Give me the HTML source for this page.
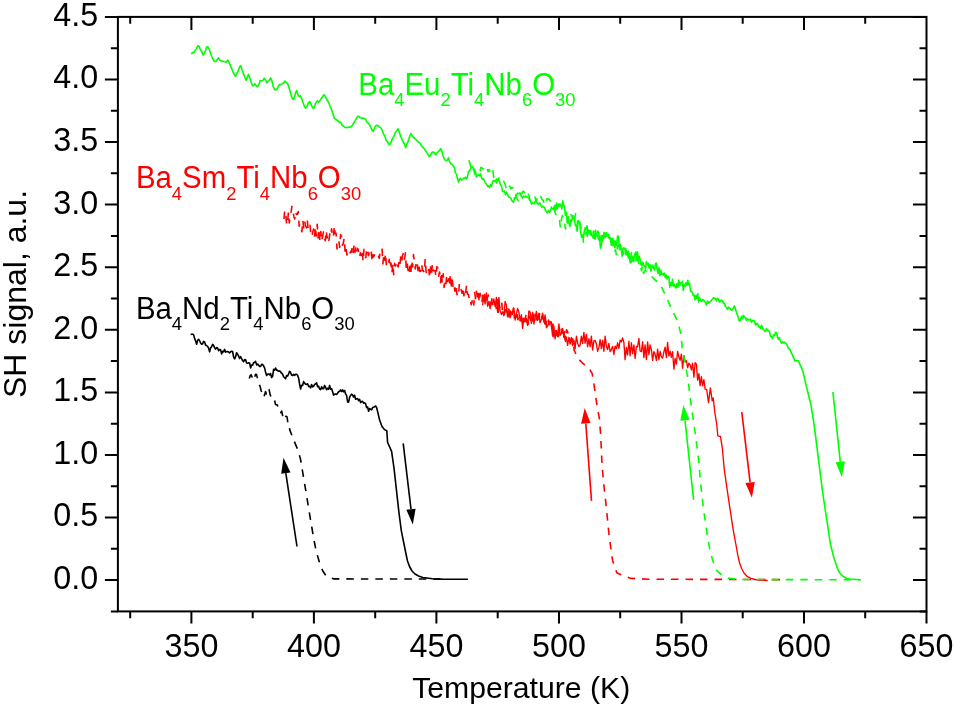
<!DOCTYPE html>
<html><head><meta charset="utf-8"><title>SH signal vs Temperature</title>
<style>html,body{margin:0;padding:0;background:#fff;}svg{display:block;}</style>
</head><body>
<svg width="954" height="707" viewBox="0 0 954 707">
<rect width="954" height="707" fill="#fff"/>
<g fill="none" stroke-linejoin="round" stroke-linecap="butt">
<polyline points="249.3,378.6 250.2,375.6 251.1,374.7 252.0,377.0 252.9,373.6 253.8,374.5 254.7,377.0 255.6,374.2 256.5,374.5 257.4,377.9 258.3,380.8 259.2,384.7 260.1,386.2 261.0,390.2 261.9,392.7 262.8,393.5 263.7,397.3 264.6,394.9 265.5,391.6 266.4,393.9 267.3,388.8 268.2,388.4 269.1,389.7 270.0,394.0 270.9,396.7 271.8,397.8 272.7,397.5 273.6,400.1 274.5,399.9 275.4,404.1 276.3,404.8 277.2,404.7 278.1,407.3 279.0,407.3 279.9,412.0 280.8,412.6 281.7,411.2 282.6,415.5 283.5,412.3 284.4,415.8 285.3,416.2 286.2,416.4 287.1,417.0 288.0,424.2 288.9,424.0 289.7,429.6 293.8,440.3 297.8,449.7 300.5,459.1 303.2,475.3 305.9,491.4 308.5,507.5 311.2,523.7 313.9,539.8 316.0,550.0 318.3,558.6 320.6,566.0 322.8,571.0 325.3,574.8 328.7,577.4 334.1,578.9 440.0,579.1" stroke="#000" stroke-width="1.6" stroke-dasharray="7.5 7"/>
<polyline points="190.6,334.5 191.6,334.3 192.6,334.2 193.6,334.9 194.6,338.4 195.6,341.0 196.6,344.2 197.6,340.3 198.6,339.3 199.6,340.7 200.6,343.0 201.6,344.1 202.6,343.9 203.6,341.4 204.6,342.0 205.6,345.2 206.6,345.5 207.6,346.5 208.6,348.1 209.6,351.9 210.6,347.9 211.6,346.8 212.6,344.4 213.6,345.4 214.6,347.8 215.6,349.1 216.6,347.6 217.6,347.9 218.6,350.7 219.6,349.6 220.6,349.8 221.6,353.9 222.6,351.4 223.6,351.8 224.6,349.4 225.6,352.1 226.6,351.6 227.6,351.6 228.6,352.0 229.6,353.0 230.6,351.7 231.6,351.2 232.6,351.6 233.6,357.0 234.6,358.9 235.6,356.7 236.6,352.7 237.6,354.2 238.6,356.1 239.6,358.5 240.6,356.6 241.6,358.7 242.6,360.5 243.6,361.7 244.6,359.6 245.6,359.8 246.6,363.0 247.6,363.3 248.6,362.8 249.6,363.0 250.6,367.9 251.6,365.0 252.6,365.2 253.6,362.6 254.6,362.5 255.6,361.4 256.6,364.9 257.6,364.1 258.6,365.0 259.6,366.5 260.6,366.5 261.6,364.2 262.6,364.3 263.6,366.0 264.6,367.8 265.6,372.3 266.6,375.4 267.6,374.1 268.6,374.1 269.6,374.8 270.6,373.6 271.6,377.5 272.6,376.3 273.6,369.3 274.6,370.2 275.6,368.0 276.6,370.2 277.6,370.4 278.6,371.3 279.6,370.9 280.6,371.9 281.6,373.2 282.6,374.1 283.6,376.7 284.6,377.8 285.6,378.8 286.6,375.6 287.6,376.1 288.6,373.9 289.6,371.3 290.6,372.4 291.6,375.2 292.6,375.4 293.6,374.4 294.6,375.5 295.6,374.2 296.6,374.3 297.6,375.4 298.6,378.0 299.6,384.0 300.6,389.0 301.6,385.4 302.6,385.5 303.6,381.6 304.6,383.1 305.6,384.3 306.6,384.4 307.6,383.8 308.6,386.4 309.6,386.3 310.6,387.9 311.6,384.6 312.6,386.8 313.6,386.3 314.6,384.3 315.6,383.9 316.6,382.8 317.6,386.8 318.6,386.2 319.6,389.0 320.6,389.7 321.6,386.7 322.6,388.6 323.6,388.8 324.6,385.4 325.6,387.3 326.6,389.7 327.6,388.3 328.6,389.3 329.6,385.4 330.6,389.2 331.6,388.6 332.6,391.7 333.6,395.1 334.6,394.3 335.6,394.0 336.6,394.4 337.6,393.2 338.6,391.7 339.6,391.2 340.6,389.9 341.6,391.5 342.6,389.9 343.6,391.9 344.6,390.5 345.6,394.0 346.6,395.4 347.6,402.0 348.6,402.1 349.6,397.3 350.6,395.4 351.6,394.2 352.6,395.1 353.6,397.1 354.6,395.1 355.6,399.2 356.6,398.7 357.6,398.5 358.6,400.6 359.6,399.4 360.6,402.6 361.6,401.6 362.6,401.3 363.6,403.2 364.6,402.8 365.6,403.7 366.6,407.6 367.6,406.9 368.6,411.3 369.6,408.5 370.6,409.2 371.6,409.8 372.6,407.6 373.6,407.3 374.6,406.6 375.6,406.0 376.6,407.5 377.6,411.5 379.6,420.0 382.0,426.5 384.4,429.6 386.8,430.8 387.6,442.5 391.6,451.3 394.0,468.1 396.4,489.7 398.8,511.3 401.3,530.6 404.2,545.0 405.8,553.0 407.5,561.0 409.5,566.5 412.0,571.0 415.0,574.0 418.5,576.0 422.9,577.5 432.5,578.7 442.1,579.1 467.9,579.2" stroke="#000" stroke-width="1.6"/>
<polyline points="283.9,219.0 284.8,210.3 285.7,212.5 286.6,225.0 287.5,223.8 288.4,212.0 289.3,222.9 290.2,216.8 291.1,211.7 292.0,206.2 292.9,208.8 293.8,216.4 294.7,218.9 295.6,211.4 296.5,214.4 297.4,214.3 298.3,211.5 299.2,226.1 300.1,223.6 301.0,227.8 301.9,231.8 302.8,220.2 303.7,227.8 304.6,221.0 305.5,225.6 306.4,227.8 307.3,220.1 308.2,230.1 309.1,228.7 310.0,225.2 310.9,234.9 311.8,236.9 312.7,232.2 313.6,229.0 314.5,237.1 315.4,226.5 316.3,236.0 317.2,224.4 318.1,237.9 319.0,228.7 319.9,240.5 320.8,231.5 321.7,241.2 322.6,236.0 323.5,231.8 324.4,238.0 325.3,240.8 326.2,230.4 327.1,238.0 328.0,234.6 328.9,240.4 329.8,233.8 330.7,236.4 331.6,228.7 332.5,237.0 333.4,237.5 334.3,225.7 335.2,233.7 336.1,233.4 337.0,249.0 337.9,243.2 338.8,240.8 339.7,247.4 340.6,234.5 341.5,236.8 342.4,245.2 343.3,243.3 344.2,238.1 345.1,251.9 346.0,247.1 346.9,254.9 347.8,251.9 348.7,254.8 349.6,255.0 350.5,251.4 351.4,252.1 352.3,246.4 353.2,252.4 354.1,244.4 355.0,252.4 355.9,245.2 356.8,250.9 357.7,248.3 358.6,251.9 359.5,257.5 360.4,252.9 361.3,255.4 362.2,249.8 363.1,261.7 364.0,249.3 364.9,256.4 365.8,257.7 366.7,248.1 367.6,250.2 368.5,255.7 369.4,252.0 370.3,254.3 371.2,251.0 372.1,262.0 373.0,254.8 373.9,256.6 374.8,253.6 375.7,252.8 376.6,256.0 377.5,255.5 378.4,256.1 379.3,258.3 380.2,251.0 381.1,250.0 382.0,247.9 382.9,263.9 383.8,253.8 384.7,260.2 385.6,253.2 386.5,266.9 387.4,265.4 388.3,265.3 389.2,259.3 390.1,268.1 391.0,263.1 391.9,273.5 392.8,263.2 393.7,274.7 394.6,263.4 395.5,265.9 396.4,260.8 397.3,264.6 398.2,266.9 399.1,259.8 400.0,264.1 400.9,255.2 401.8,260.7 402.7,254.9 403.6,252.8 404.5,259.4 405.4,252.7 406.3,268.9 407.2,263.3 408.1,270.6 409.0,274.9 409.9,266.4 410.8,273.6 411.7,260.0 412.6,267.0 413.5,254.5 414.4,263.3 415.3,269.0 416.2,262.4 417.1,260.9 418.0,270.7 418.9,264.6 419.8,271.4 420.7,271.3 421.6,264.0 422.5,270.4 423.4,270.8 424.3,272.8 425.2,258.9 426.1,271.7 427.0,275.0 427.9,275.1 428.8,269.5 429.7,278.1 430.6,267.1 431.5,273.7 432.4,263.8 433.3,270.6 434.2,270.8 435.1,270.5 436.0,276.8 436.9,266.6 437.8,268.1 438.7,276.2 439.6,272.0 440.5,282.6 441.4,272.1 442.3,283.5 443.2,273.9 444.1,287.5 445.0,280.2 445.9,284.4 446.8,274.8 447.7,281.7 448.6,278.8 449.5,285.9 450.4,273.8 451.3,285.9 452.2,279.2 453.1,287.3 454.0,284.1 454.9,291.1 455.8,284.2 456.7,292.7 457.6,296.7 458.5,295.8 459.4,283.1 460.3,286.8 461.2,289.9 462.1,293.3 463.0,287.1 463.9,295.8 464.8,289.0 465.7,292.4 466.6,285.0 467.5,294.2 468.4,294.7 469.3,298.8 470.2,297.3 471.1,304.7 472.0,301.6 472.9,297.8 473.8,304.9 474.7,292.5 475.6,299.3 476.5,291.2 477.4,298.5 478.3,292.7 479.2,302.5 480.1,293.4 481.0,299.2 481.9,302.7 482.8,294.4 483.7,299.4 484.6,294.5 485.5,299.0 486.4,303.0 487.3,297.9 488.2,294.9 489.1,305.0 490.0,302.4 490.9,308.5 491.8,298.9 492.7,303.7 493.6,301.8 494.5,304.1 495.4,303.0 496.3,308.5 497.2,299.5 498.1,312.5 499.0,306.8 499.9,307.3 500.8,301.6 501.7,302.3 502.6,313.3 503.5,310.7 504.4,314.3 505.3,305.7 506.2,312.2 507.1,307.1 508.0,309.9 508.9,316.6 509.8,308.2 510.7,314.8 511.6,309.2 512.5,314.4 513.4,308.0 514.3,318.0 515.2,317.2 516.1,317.4 517.0,311.0 517.9,319.7 518.8,315.8 519.7,317.5 520.6,320.8 521.5,319.9 522.4,321.6 523.3,316.8 524.2,322.4 525.1,319.8 526.0,314.6 526.9,322.1 527.8,320.2 528.7,325.2 529.6,316.2 530.5,320.3 531.4,320.1 532.3,313.7 533.2,324.8 534.1,314.2 535.0,314.3 535.9,320.7 536.8,315.8 537.7,322.3 538.6,322.0 539.5,313.6 540.4,318.2 541.3,315.5 542.2,319.0 543.1,312.6 544.0,315.0 544.9,323.9 545.8,318.3 546.7,328.7 547.6,324.8 548.5,320.1 549.4,326.1 550.3,320.9 551.2,322.0 552.1,332.8 553.0,324.1 553.9,336.7 554.8,328.1 555.7,330.3 556.6,335.0 557.5,329.9 558.4,336.5 559.3,330.0 560.2,326.7 561.1,328.4 562.0,333.6 562.9,330.1 563.8,337.1 564.7,329.7 565.6,341.5 566.5,329.8 567.4,331.1 568.3,334.5 569.2,335.8 570.1,343.8 571.0,335.6 571.9,341.7 572.8,338.8 574.2,350.4 578.7,359.2 583.1,363.7 588.9,368.0 592.2,373.7 593.9,383.9 597.3,407.6 599.3,417.8 600.7,434.7 601.8,460.1 602.4,468.6 603.4,481.3 605.8,502.5 609.2,536.4 612.5,560.2 616.8,572.8 619.3,574.0 631.2,578.4 648.1,579.2 780.3,579.6" stroke="#f00" stroke-width="1.6" stroke-dasharray="7.5 7"/>
<polyline points="482.6,305.4 483.9,296.4 485.1,303.8 486.4,292.8 487.6,306.3 488.9,301.3 490.1,308.7 491.4,301.2 492.6,304.7 493.9,299.0 495.1,306.5 496.4,297.4 497.6,312.3 498.9,297.4 500.1,310.6 501.4,314.5 502.6,311.8 503.9,315.8 505.1,301.5 506.4,305.2 507.6,316.9 508.9,308.8 510.1,317.8 511.4,312.0 512.6,313.2 513.9,308.3 515.1,320.0 516.4,313.6 517.6,308.4 518.9,312.1 520.1,320.8 521.4,314.7 522.6,328.3 523.9,318.0 525.1,321.8 526.4,318.4 527.6,325.4 528.9,311.0 530.1,312.1 531.4,323.4 532.6,312.3 533.9,324.0 535.1,317.6 536.4,311.4 537.6,320.3 538.9,313.3 540.1,322.7 541.4,319.5 542.6,313.1 543.9,322.1 545.1,314.9 546.4,325.9 547.6,326.2 548.9,322.2 550.1,321.4 551.4,325.1 552.6,336.1 553.9,326.2 555.1,339.0 556.4,330.5 557.6,336.6 558.9,323.9 560.1,335.5 561.4,332.4 562.6,328.5 563.9,335.3 565.1,339.8 566.4,337.1 567.6,345.3 568.9,337.3 570.1,341.4 571.4,337.4 572.6,345.7 573.9,340.1 575.1,348.8 576.4,336.2 577.6,342.9 578.9,346.6 580.1,345.1 581.4,336.1 582.6,343.4 583.9,332.4 585.1,343.2 586.4,334.4 587.6,346.9 588.9,338.6 590.1,346.6 591.4,336.1 592.6,350.0 593.9,340.9 595.1,340.4 596.4,344.0 597.6,351.4 598.9,347.4 600.1,339.7 601.4,348.7 602.6,340.1 603.9,351.3 605.1,336.2 606.4,346.2 607.6,349.6 608.9,343.5 610.1,351.6 611.4,349.6 612.6,346.5 613.9,354.5 615.1,346.1 616.4,348.7 617.6,342.8 618.9,348.4 620.1,340.3 621.4,341.8 622.6,337.9 623.9,342.6 625.1,359.7 626.4,347.5 627.6,354.8 628.9,341.2 630.1,355.7 631.4,342.7 632.6,353.7 633.9,345.0 635.1,358.5 636.4,346.5 637.6,346.9 638.9,338.4 640.1,351.0 641.4,351.7 642.6,341.8 643.9,357.6 645.1,344.9 646.4,359.5 647.6,341.9 648.9,354.7 650.1,344.8 651.4,349.7 652.6,360.3 653.9,351.6 655.1,354.3 656.4,360.4 657.6,349.2 658.9,359.7 660.1,351.5 661.4,356.9 662.6,358.0 663.9,352.0 665.1,347.1 666.4,357.6 667.6,342.5 668.9,356.0 670.1,351.2 671.4,357.4 672.6,351.7 673.9,369.1 675.1,358.5 676.4,364.0 677.6,351.4 678.9,357.1 680.1,360.3 681.4,354.2 682.6,368.2 683.9,355.7 685.1,361.9 686.4,360.7 687.6,367.7 688.9,363.2 690.1,364.7 691.4,369.8 692.6,363.1 693.9,377.2 695.1,362.7 696.4,364.1 697.6,380.1 698.9,373.6 700.1,385.7 701.4,376.6 702.6,385.9 703.9,379.6 705.1,389.2 706.7,389.7 708.5,402.6 710.4,387.9 712.2,400.8 713.2,398.0 715.0,413.7 716.8,424.7 717.8,435.8 720.5,436.7 722.4,448.7 724.2,469.0 728.4,498.2 733.1,529.3 736.0,545.0 737.8,555.3 739.6,563.0 741.6,568.5 744.0,573.0 747.0,576.3 751.0,578.3 755.0,579.5 760.4,580.3 767.7,580.5" stroke="#f00" stroke-width="1.35"/>
<polyline points="468.9,160.2 470.1,164.1 471.3,170.9 472.5,172.0 473.7,169.2 474.9,174.2 476.1,173.0 477.3,174.4 478.5,172.9 479.7,172.7 480.9,167.4 482.1,167.9 483.3,169.0 484.5,170.2 485.7,170.0 486.9,167.2 488.1,171.7 489.3,169.7 490.5,172.7 491.7,174.5 492.9,170.7 494.1,180.3 495.3,184.0 496.5,183.2 497.7,179.6 498.9,177.9 500.1,181.5 501.3,181.6 502.5,180.3 503.7,181.4 504.9,183.5 506.1,188.1 507.3,184.8 508.5,187.3 509.7,186.1 510.9,188.8 512.1,187.5 513.3,188.2 514.5,194.8 515.7,195.0 516.9,198.1 518.1,200.7 519.3,200.2 520.5,193.2 521.7,193.8 522.9,191.3 524.1,192.0 525.3,193.7 526.5,195.2 527.7,192.5 528.9,195.3 530.1,200.9 531.3,200.1 532.5,198.4 533.7,198.9 534.9,196.9 536.1,201.1 537.3,198.3 538.5,200.7 539.7,198.8 540.9,196.6 542.1,199.6 543.3,200.4 544.5,205.1 545.7,202.7 546.9,198.8 548.1,199.0 549.3,199.5 550.5,201.0 551.7,204.6 552.9,206.4 554.1,209.1 555.5,214.1 556.5,215.1 557.5,216.3 558.5,220.9 559.5,220.7 560.5,228.0 561.5,218.6 562.5,215.6 563.5,221.8 564.5,222.8 565.5,229.0 566.5,221.4 567.5,222.9 568.5,215.1 569.5,211.7 570.5,214.5 571.5,215.1 572.5,218.0 573.5,214.0 574.5,219.9 575.5,213.8 576.5,215.4 577.5,224.8 578.5,217.7 579.5,223.0 580.5,225.1 581.5,231.5 582.5,232.9 583.5,242.2 584.5,238.7 585.5,233.8 586.5,232.2 587.5,236.7 588.5,238.3 589.5,231.6 590.5,235.0 591.5,232.1 592.5,236.4 593.5,231.0 594.5,237.2 595.5,230.3 596.5,239.8 597.5,235.4 598.5,239.6 599.5,235.1 600.5,240.6 601.5,232.6 602.5,240.9 603.5,234.0 604.5,237.5 605.5,235.1 606.5,232.9 607.5,239.2 608.5,234.5 609.5,238.7 610.5,239.2 611.5,240.4 612.5,236.2 613.5,247.2 614.5,251.9 615.5,249.8 616.5,255.7 617.5,245.9 618.5,246.5 619.5,244.7 620.5,243.5 621.5,250.5 622.5,249.8 623.5,254.1 624.5,247.7 625.5,247.4 626.5,255.8 627.5,252.2 628.5,258.0 629.5,253.8 630.5,260.1 631.5,252.6 632.5,253.4 633.5,261.7 634.5,254.7 635.5,260.4 636.5,259.8 637.5,259.5 638.5,261.5 639.5,266.8 640.5,265.2 641.5,270.8 642.5,265.5 643.5,273.4 645.3,270.2 652.9,277.8 660.6,285.0 666.5,297.5 672.0,310.0 677.6,321.0 681.0,334.5 682.2,347.9 684.8,361.9 687.3,374.6 688.6,384.7 691.1,404.9 694.8,429.8 698.4,457.8 700.9,486.2 703.2,506.5 705.6,523.6 707.9,539.2 710.2,551.7 713.4,562.6 716.5,570.3 722.7,575.8 728.2,578.1 740.0,579.5 860.7,579.8" stroke="#0f0" stroke-width="1.6" stroke-dasharray="7.5 7"/>
<polyline points="191.3,53.9 192.6,52.6 193.9,52.6 195.2,50.4 196.5,48.6 197.8,45.7 199.1,46.2 200.4,49.7 201.7,51.6 203.0,55.0 204.3,53.6 205.6,50.0 206.9,46.9 208.2,47.0 209.5,49.8 210.8,54.0 212.1,57.5 213.4,60.1 214.7,61.6 216.0,61.4 217.3,59.5 218.6,57.8 219.9,60.5 221.2,60.8 222.5,61.5 223.8,61.4 225.1,61.8 226.4,62.1 227.7,60.2 229.0,62.1 230.3,65.4 231.6,68.2 232.9,71.8 234.2,74.2 235.5,76.5 236.8,73.5 238.1,71.1 239.4,67.4 240.7,65.5 242.0,69.7 243.3,73.2 244.6,76.6 245.9,80.3 247.2,77.7 248.5,74.4 249.8,78.1 251.1,81.6 252.4,85.8 253.7,85.6 255.0,83.8 256.3,85.9 257.6,86.5 258.9,84.5 260.2,80.5 261.5,80.7 262.8,80.5 264.1,78.4 265.4,79.8 266.7,82.9 268.0,81.3 269.3,80.4 270.6,77.9 271.9,80.9 273.2,86.5 274.5,89.3 275.8,90.0 277.1,89.0 278.4,86.2 279.7,84.5 281.0,84.8 282.3,83.5 283.6,83.0 284.9,81.0 286.2,82.5 287.5,83.4 288.8,86.7 290.1,91.2 291.4,96.0 292.7,99.2 294.0,98.9 295.3,93.8 296.6,90.6 297.9,94.7 299.2,96.6 300.5,95.7 301.8,99.1 303.1,102.5 304.4,106.5 305.7,108.3 307.0,106.4 308.3,103.1 309.6,101.6 310.9,104.2 312.2,107.0 313.5,108.6 314.8,105.7 316.1,102.4 317.4,100.8 318.7,102.1 320.0,100.4 321.3,98.5 322.6,96.6 323.9,94.7 325.2,96.1 326.5,99.0 327.8,101.2 329.1,103.5 330.4,107.0 331.7,110.1 333.0,114.1 334.3,118.4 335.6,119.2 336.9,120.0 338.2,121.2 339.5,122.4 340.8,122.4 342.1,125.1 343.4,126.0 344.7,127.3 346.0,127.8 347.3,127.3 348.6,127.5 349.9,126.9 351.2,126.9 352.5,124.9 353.8,123.0 355.1,120.8 356.4,118.4 357.7,116.3 359.0,116.5 360.3,117.7 361.6,118.1 362.9,118.0 364.2,118.5 365.5,118.9 366.8,122.0 368.1,123.1 369.4,124.3 370.7,127.2 372.0,130.1 373.3,131.5 374.6,127.7 375.9,125.6 377.2,125.4 378.5,125.7 379.8,127.1 381.1,128.2 382.4,131.0 383.7,134.1 385.0,136.7 386.3,140.4 387.6,142.0 388.9,144.4 390.2,144.1 391.5,141.0 392.8,137.9 394.1,136.0 395.4,132.4 396.7,130.6 398.0,128.7 399.3,131.9 400.6,136.0 401.9,139.2 403.2,142.0 404.5,144.2 405.8,147.4 407.1,143.6 408.4,140.6 409.7,136.4 411.0,133.5 412.3,135.9 413.6,137.5 414.9,138.5 416.2,139.8 417.5,141.1 418.8,142.3 420.1,143.2 421.4,145.6 422.7,147.2 424.0,148.4 425.3,150.2 426.6,152.4 427.9,154.2 429.2,156.7 430.5,155.4 431.8,152.7 433.1,151.8 434.4,153.0 435.7,154.8 437.0,153.0 438.3,151.6 439.6,150.4 440.5,148.7 441.5,149.8 442.5,153.9 443.5,157.4 444.5,159.4 445.5,160.1 446.5,160.8 447.5,159.9 448.5,157.8 449.5,161.4 450.5,163.5 451.5,164.0 452.5,164.9 453.5,166.3 454.5,167.8 455.5,173.2 456.5,174.0 457.5,178.8 458.5,182.0 459.5,178.9 460.5,178.3 461.5,180.1 462.5,179.6 463.5,178.1 464.5,178.5 465.5,177.1 466.5,178.9 467.5,176.9 468.5,171.3 469.5,171.3 470.5,168.9 471.5,166.7 472.5,166.6 473.5,168.8 474.5,169.6 475.5,171.6 476.5,177.2 477.5,175.4 478.5,174.5 479.5,175.9 480.5,173.8 481.5,177.7 482.5,179.5 483.5,178.8 484.5,181.0 485.5,183.0 486.5,183.8 487.5,186.3 488.5,185.8 489.5,187.5 490.5,184.5 491.5,186.1 492.5,181.9 493.5,180.6 494.5,180.5 495.5,181.6 496.5,179.1 497.5,180.9 498.5,178.8 499.5,181.6 500.5,184.9 501.5,186.1 502.5,191.4 503.5,191.7 504.5,191.1 505.5,194.8 506.5,192.2 507.5,194.2 508.5,196.7 509.5,197.3 510.5,197.6 511.5,199.8 512.5,201.4 513.5,202.2 514.5,197.6 515.5,197.9 516.5,194.8 517.5,193.3 518.5,193.8 519.5,193.0 520.5,194.5 521.5,196.6 522.5,198.1 523.5,196.1 524.5,196.8 525.5,196.3 526.5,196.4 527.5,197.6 528.5,197.9 529.5,199.7 530.5,200.8 531.5,204.1 532.5,202.9 533.5,203.5 534.5,203.7 535.5,200.5 536.5,201.7 537.5,203.5 538.5,204.5 539.5,202.8 540.5,204.1 541.5,206.9 542.5,206.0 543.5,207.4 544.5,207.3 545.5,210.6 546.5,211.8 547.5,212.9 548.5,210.3 549.5,212.4 550.5,210.7 551.5,207.0 552.5,208.9 553.5,209.1 554.5,205.6 555.5,210.7 556.4,203.1 557.3,208.7 558.2,204.1 559.1,206.2 560.0,203.8 560.9,205.6 561.8,208.9 562.7,200.8 563.6,205.6 564.5,205.8 565.4,215.3 566.3,212.2 567.2,222.5 568.1,217.4 569.0,223.3 569.9,226.3 570.8,219.9 571.7,221.1 572.6,216.9 573.5,218.8 574.4,217.2 575.3,225.5 576.2,225.1 577.1,231.1 578.0,220.8 578.9,221.0 579.8,222.4 580.7,232.9 581.6,237.3 582.5,234.9 583.4,237.9 584.3,231.5 585.2,227.9 586.1,229.7 587.0,225.9 587.9,234.4 588.8,230.0 589.7,232.0 590.6,230.6 591.5,235.6 592.4,235.2 593.3,238.2 594.2,234.5 595.1,239.2 596.0,235.2 596.9,233.7 597.8,231.1 598.7,233.1 599.6,239.1 600.5,248.1 601.4,245.5 602.3,235.6 603.2,238.5 604.1,232.4 605.0,237.8 605.9,232.8 606.8,236.0 607.7,235.1 608.6,237.0 609.5,238.1 610.4,237.6 611.3,245.5 612.2,238.2 613.1,245.8 614.0,240.4 614.9,247.8 615.8,241.2 616.7,245.3 617.6,236.0 618.5,236.3 619.4,249.7 620.3,244.6 621.2,248.5 622.1,256.1 623.0,248.3 623.9,248.0 624.8,248.2 625.7,254.4 626.6,250.6 627.5,255.7 628.4,251.2 629.3,256.9 630.2,262.7 631.1,262.4 632.0,256.0 632.9,261.2 633.8,257.9 634.7,254.6 635.6,252.2 636.5,260.4 637.4,251.7 638.3,260.9 639.2,256.4 640.1,259.7 641.0,264.7 641.9,265.8 642.8,262.0 643.7,265.1 644.6,266.2 645.5,268.6 646.4,261.5 647.3,264.0 648.2,263.4 649.1,268.0 650.0,264.6 650.9,271.2 651.8,266.2 652.7,265.2 653.6,268.1 654.5,270.0 655.4,263.9 656.3,263.0 657.2,269.9 658.1,273.4 659.0,267.6 659.9,275.6 660.8,270.0 661.7,274.3 662.6,273.5 663.5,275.1 664.4,273.2 665.3,277.6 666.2,275.0 667.1,279.0 668.0,276.2 668.9,277.9 669.8,287.1 670.7,282.5 671.6,285.4 672.5,279.2 673.4,286.2 674.3,284.5 675.2,286.9 676.1,288.0 677.0,283.5 677.9,287.2 678.8,280.1 679.7,285.2 680.6,282.8 681.5,283.0 682.4,281.3 683.3,290.3 684.2,284.8 685.1,286.1 686.0,282.7 686.9,285.3 687.8,280.4 688.7,285.0 689.6,283.7 690.5,291.0 691.4,291.4 692.3,292.4 693.2,295.7 694.1,295.1 695.0,299.9 695.9,295.5 696.8,298.4 697.7,293.7 698.6,301.9 699.5,297.6 700.5,300.5 701.5,301.3 702.5,299.6 703.5,299.9 704.5,301.5 705.5,302.5 706.5,305.1 707.5,301.0 708.5,303.0 709.5,301.9 710.5,301.5 711.5,300.4 712.5,298.9 713.5,297.7 714.5,298.1 715.5,298.7 716.5,300.9 717.5,298.3 718.5,299.2 719.5,302.1 720.5,300.5 721.5,300.3 722.5,300.7 723.5,303.6 724.5,303.2 725.5,306.7 726.5,307.5 727.5,309.3 728.5,307.3 729.5,307.8 730.5,309.1 731.5,310.1 732.5,310.0 733.5,307.9 734.5,305.9 735.5,309.2 736.5,312.6 737.5,315.4 738.5,318.2 739.5,321.2 740.5,319.7 741.5,316.3 742.5,318.5 743.5,315.3 744.5,317.5 745.5,317.6 746.5,320.2 747.5,318.8 748.5,320.0 749.5,319.8 750.5,319.2 751.5,322.3 752.5,320.8 753.5,320.3 754.5,321.5 755.5,325.0 756.5,323.7 757.5,323.4 758.5,326.7 759.5,326.6 760.5,328.7 761.5,325.4 762.5,327.7 763.5,329.9 764.5,330.6 765.5,331.5 766.5,328.5 767.5,330.5 768.5,330.6 769.5,331.8 770.5,336.4 771.5,336.2 772.5,338.6 773.5,334.8 774.5,335.6 775.5,332.4 776.5,332.8 777.5,336.9 778.5,339.5 779.5,337.6 780.5,341.6 781.5,343.2 782.5,341.8 783.5,342.9 784.5,342.3 785.5,343.0 786.5,343.6 787.5,346.3 788.5,348.6 789.5,348.6 794.9,360.7 798.3,360.7 802.8,370.9 806.2,385.6 810.7,403.7 813.0,417.3 815.2,433.1 818.0,455.7 820.9,478.4 822.1,488.4 824.8,506.8 827.6,525.2 830.3,543.6 834.0,558.3 837.7,569.3 840.2,573.5 843.2,576.5 846.5,578.2 849.7,579.0 860.7,579.8" stroke="#0f0" stroke-width="1.6"/>
</g>
<line x1="297.0" y1="546.5" x2="285.8" y2="473.1" stroke="#000" stroke-width="1.6"/><polygon points="283.5,457.8 290.5,472.4 281.2,473.8" fill="#000"/>
<line x1="403.2" y1="443.3" x2="411.0" y2="509.2" stroke="#000" stroke-width="1.6"/><polygon points="412.8,524.6 406.3,509.8 415.6,508.7" fill="#000"/>
<line x1="591.5" y1="500.9" x2="585.8" y2="423.5" stroke="#f00" stroke-width="1.6"/><polygon points="584.7,408.0 590.5,423.1 581.1,423.8" fill="#f00"/>
<line x1="741.8" y1="412.2" x2="750.1" y2="482.4" stroke="#f00" stroke-width="1.6"/><polygon points="751.9,497.8 745.4,483.0 754.8,481.9" fill="#f00"/>
<line x1="693.6" y1="499.8" x2="685.0" y2="420.3" stroke="#0f0" stroke-width="1.6"/><polygon points="683.3,404.9 689.6,419.8 680.3,420.8" fill="#0f0"/>
<line x1="832.9" y1="391.9" x2="840.3" y2="461.8" stroke="#0f0" stroke-width="1.6"/><polygon points="841.9,477.2 835.6,462.3 844.9,461.3" fill="#0f0"/>
<g stroke="#000" stroke-width="2" fill="none" stroke-linecap="square">
<rect x="117.9" y="16.9" width="808.6" height="594.5"/>
<path d="M110.9 611.4H117.9 M919.5 611.4H926.5 M104.9 580.1H117.9 M913.0 580.1H926.5 M110.9 548.8H117.9 M919.5 548.8H926.5 M104.9 517.5H117.9 M913.0 517.5H926.5 M110.9 486.2H117.9 M919.5 486.2H926.5 M104.9 455.0H117.9 M913.0 455.0H926.5 M110.9 423.7H117.9 M919.5 423.7H926.5 M104.9 392.4H117.9 M913.0 392.4H926.5 M110.9 361.1H117.9 M919.5 361.1H926.5 M104.9 329.8H117.9 M913.0 329.8H926.5 M110.9 298.5H117.9 M919.5 298.5H926.5 M104.9 267.2H117.9 M913.0 267.2H926.5 M110.9 235.9H117.9 M919.5 235.9H926.5 M104.9 204.6H117.9 M913.0 204.6H926.5 M110.9 173.3H117.9 M919.5 173.3H926.5 M104.9 142.1H117.9 M913.0 142.1H926.5 M110.9 110.8H117.9 M919.5 110.8H926.5 M104.9 79.5H117.9 M913.0 79.5H926.5 M110.9 48.2H117.9 M919.5 48.2H926.5 M104.9 16.9H117.9 M913.0 16.9H926.5 M130.2 611.4V618.1999999999999 M130.2 16.9V23.7 M191.4 611.4V623.4 M191.4 16.9V29.9 M252.7 611.4V618.1999999999999 M252.7 16.9V23.7 M313.9 611.4V623.4 M313.9 16.9V29.9 M375.2 611.4V618.1999999999999 M375.2 16.9V23.7 M436.4 611.4V623.4 M436.4 16.9V29.9 M497.7 611.4V618.1999999999999 M497.7 16.9V23.7 M559.0 611.4V623.4 M559.0 16.9V29.9 M620.2 611.4V618.1999999999999 M620.2 16.9V23.7 M681.5 611.4V623.4 M681.5 16.9V29.9 M742.7 611.4V618.1999999999999 M742.7 16.9V23.7 M804.0 611.4V623.4 M804.0 16.9V29.9 M865.2 611.4V618.1999999999999 M865.2 16.9V23.7 M926.5 611.4V623.4" stroke-linecap="butt"/>
</g>
<g font-family="Liberation Sans, sans-serif" font-size="32.3" fill="#000">
<text x="98.2" y="589.0" text-anchor="end">0.0</text>
<text x="98.2" y="526.4" text-anchor="end">0.5</text>
<text x="98.2" y="463.9" text-anchor="end">1.0</text>
<text x="98.2" y="401.3" text-anchor="end">1.5</text>
<text x="98.2" y="338.7" text-anchor="end">2.0</text>
<text x="98.2" y="276.1" text-anchor="end">2.5</text>
<text x="98.2" y="213.5" text-anchor="end">3.0</text>
<text x="98.2" y="151.0" text-anchor="end">3.5</text>
<text x="98.2" y="88.4" text-anchor="end">4.0</text>
<text x="98.2" y="25.8" text-anchor="end">4.5</text>
<text x="191.4" y="656.6" text-anchor="middle">350</text>
<text x="313.9" y="656.6" text-anchor="middle">400</text>
<text x="436.4" y="656.6" text-anchor="middle">450</text>
<text x="559.0" y="656.6" text-anchor="middle">500</text>
<text x="681.5" y="656.6" text-anchor="middle">550</text>
<text x="804.0" y="656.6" text-anchor="middle">600</text>
<text x="926.5" y="656.6" text-anchor="middle">650</text>
</g>
<text x="521.2" y="698.4" text-anchor="middle" font-family="Liberation Sans, sans-serif" font-size="30.2">Temperature (K)</text>
<text transform="translate(26.3,294) rotate(-90)" text-anchor="middle" font-family="Liberation Sans, sans-serif" font-size="32">SH signal, a.u.</text>
<text transform="translate(358.3,94.8) scale(1,1.04)" x="0" y="0" fill="#0f0" font-family="Liberation Sans, sans-serif" font-size="29.4"><tspan>Ba</tspan><tspan dy="11.15" font-size="18.4">4</tspan><tspan dy="-11.15">Eu</tspan><tspan dy="11.15" font-size="18.4">2</tspan><tspan dy="-11.15">Ti</tspan><tspan dy="11.15" font-size="18.4">4</tspan><tspan dy="-11.15">Nb</tspan><tspan dy="11.15" font-size="18.4">6</tspan><tspan dy="-11.15">O</tspan><tspan dy="11.15" font-size="18.4">30</tspan></text>
<text transform="translate(135.9,188.2) scale(1,1.04)" x="0" y="0" fill="#f00" font-family="Liberation Sans, sans-serif" font-size="29.4"><tspan>Ba</tspan><tspan dy="11.15" font-size="18.4">4</tspan><tspan dy="-11.15">Sm</tspan><tspan dy="11.15" font-size="18.4">2</tspan><tspan dy="-11.15">Ti</tspan><tspan dy="11.15" font-size="18.4">4</tspan><tspan dy="-11.15">Nb</tspan><tspan dy="11.15" font-size="18.4">6</tspan><tspan dy="-11.15">O</tspan><tspan dy="11.15" font-size="18.4">30</tspan></text>
<text transform="translate(135.9,318.5) scale(1,1.04)" x="0" y="0" fill="#000" font-family="Liberation Sans, sans-serif" font-size="29.4"><tspan>Ba</tspan><tspan dy="11.15" font-size="18.4">4</tspan><tspan dy="-11.15">Nd</tspan><tspan dy="11.15" font-size="18.4">2</tspan><tspan dy="-11.15">Ti</tspan><tspan dy="11.15" font-size="18.4">4</tspan><tspan dy="-11.15">Nb</tspan><tspan dy="11.15" font-size="18.4">6</tspan><tspan dy="-11.15">O</tspan><tspan dy="11.15" font-size="18.4">30</tspan></text>
</svg>
</body></html>
